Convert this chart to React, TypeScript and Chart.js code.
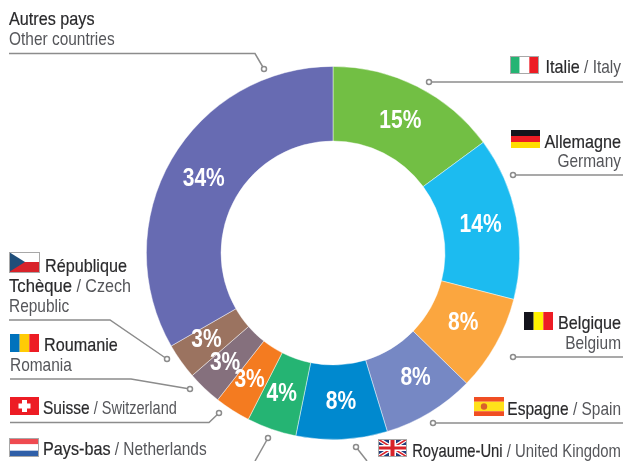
import React, { useEffect, useRef } from "react";
import { Chart, registerables } from "chart.js";

Chart.register(...registerables);

const countries = ["Italie", "Allemagne", "Belgique", "Espagne", "Royaume-Uni", "Pays-bas", "Suisse", "Roumanie", "République Tchèque", "Autres pays"];
const shares = [14.9, 14.1, 8.3, 8, 7.9, 4.3, 3.1, 3, 3.1, 33.3];
const shareLabels = ["15%", "14%", "8%", "8%", "8%", "4%", "3%", "3%", "3%", "34%"];
const sliceColors = ["#72BF44", "#1CBBF0", "#FBA63F", "#7688C4", "#0089CF", "#25B473", "#F47B20", "#85707D", "#9B7360", "#676BB2"];

const DARK = "#2a2a2c";
const LIGHT = "#55565a";
const FONT = '"Liberation Sans", sans-serif';
const LINE = "#8c8c8c";
const SQUEEZE_DARK = 0.875;
const SQUEEZE_LIGHT = 0.835;

type Seg = [string, boolean, number?];
const texts: [number, number, "l" | "r", Seg[]][] = [
  [9, 25, "l", [["Autres pays", true]]],
  [9, 45, "l", [["Other countries", false]]],
  [621, 73, "r", [["Italie", true], [" / Italy", false]]],
  [621, 148, "r", [["Allemagne", true]]],
  [621, 167, "r", [["Germany", false]]],
  [621, 329, "r", [["Belgique", true]]],
  [621, 349, "r", [["Belgium", false]]],
  [621, 415, "r", [["Espagne", true, 0.84], [" / Spain", false]]],
  [621, 457, "r", [["Royaume-Uni", true, 0.8], [" / United Kingdom", false, 0.805]]],
  [45, 272, "l", [["République", true]]],
  [9, 292, "l", [["Tchèque", true, 0.9], [" / Czech", false, 0.87]]],
  [9, 312, "l", [["Republic", false]]],
  [44, 351, "l", [["Roumanie", true]]],
  [10, 371, "l", [["Romania", false]]],
  [43, 414, "l", [["Suisse", true, 0.84], [" / Switzerland", false, 0.785]]],
  [43, 455, "l", [["Pays-bas", true], [" / Netherlands", false]]],
];

const labelNudge: [number, number][] = [
  [0, 1], [1, 1], [0, -3], [5, -2], [1, 0], [-2, 0], [-3, 1], [-5, 2], [-5, 0], [0, 1],
];

const leaders: number[][] = [
  [264, 69, 255, 53.5, 9, 53.5],
  [429, 82, 623, 82],
  [513, 175, 623, 175],
  [513, 357, 623, 357],
  [433, 423, 623, 423],
  [356, 447, 367, 461],
  [268, 438, 255, 461],
  [219, 413, 209, 422.5, 10, 422.5],
  [190, 389, 131, 379, 10, 379],
  [167, 359, 110, 320, 9, 320],
];

function stripesH(c: CanvasRenderingContext2D, x: number, y: number, w: number, h: number, cols: string[], weights?: number[]) {
  const ws = weights || cols.map(() => 1);
  const tot = ws.reduce((a, b) => a + b, 0);
  let yy = y;
  cols.forEach((col, i) => {
    const hh = (h * ws[i]) / tot;
    c.fillStyle = col;
    c.fillRect(x, yy, w, hh);
    yy += hh;
  });
}
function stripesV(c: CanvasRenderingContext2D, x: number, y: number, w: number, h: number, cols: string[]) {
  cols.forEach((col, i) => {
    c.fillStyle = col;
    c.fillRect(x + (w * i) / cols.length, y, w / cols.length, h);
  });
}
function frame(c: CanvasRenderingContext2D, x: number, y: number, w: number, h: number) {
  c.strokeStyle = "#a8a8a8";
  c.lineWidth = 1;
  c.strokeRect(x + 0.5, y + 0.5, w - 1, h - 1);
}

function drawFlags(c: CanvasRenderingContext2D) {
  stripesV(c, 510, 56, 29, 18, ["#25B473", "#FFFFFF", "#ED1C24"]);
  frame(c, 510, 56, 29, 18);
  stripesH(c, 511, 130, 29, 18, ["#14141c", "#ED1C24", "#FFDD00"]);
  stripesV(c, 524, 312, 29, 18, ["#14141c", "#FFF200", "#ED1C24"]);
  stripesH(c, 474, 397, 30, 19, ["#F04E23", "#FFE11A", "#F04E23"], [1, 2, 1]);
  c.fillStyle = "#D9602B";
  c.beginPath();
  c.arc(484, 406.5, 3.2, 0, Math.PI * 2);
  c.fill();
  c.save();
  c.beginPath();
  c.rect(378, 439, 29, 18);
  c.clip();
  c.fillStyle = "#1F3A7A";
  c.fillRect(378, 439, 29, 18);
  c.strokeStyle = "#fff";
  c.lineWidth = 4;
  c.beginPath();
  c.moveTo(378, 439);
  c.lineTo(407, 457);
  c.moveTo(407, 439);
  c.lineTo(378, 457);
  c.stroke();
  c.strokeStyle = "#D8232A";
  c.lineWidth = 1.5;
  c.stroke();
  c.fillStyle = "#fff";
  c.fillRect(389, 439, 7, 18);
  c.fillRect(378, 445, 29, 6);
  c.fillStyle = "#D8232A";
  c.fillRect(390.5, 439, 4, 18);
  c.fillRect(378, 446.5, 29, 3);
  c.restore();
  frame(c, 378, 439, 29, 18);
  stripesH(c, 9, 252, 31, 20, ["#FFFFFF", "#D8232A"]);
  c.fillStyle = "#1F4E79";
  c.beginPath();
  c.moveTo(9, 252);
  c.lineTo(25, 262);
  c.lineTo(9, 272);
  c.closePath();
  c.fill();
  frame(c, 9, 252, 31, 21);
  stripesV(c, 10, 334, 29, 18, ["#0072BC", "#FFCB05", "#ED1C24"]);
  c.fillStyle = "#ED1C24";
  c.fillRect(10, 397, 29, 18);
  c.fillStyle = "#fff";
  c.fillRect(22, 400, 5, 12);
  c.fillRect(18.5, 403.5, 12, 5);
  stripesH(c, 9, 438, 30, 19, ["#EF4A50", "#FFFFFF", "#2F5FA8"]);
  frame(c, 9, 438, 30, 19);
}

const decorate = {
  id: "decorate",
  afterDatasetsDraw(chart: any) {
    const c: CanvasRenderingContext2D = chart.ctx;
    c.save();
    const arcs = chart.getDatasetMeta(0).data;
    c.fillStyle = "#fff";
    c.font = `bold 25px ${FONT}`;
    c.textAlign = "center";
    c.textBaseline = "middle";
    arcs.forEach((a: any, i: number) => {
      const p = a.tooltipPosition();
      c.save();
      c.translate(p.x + labelNudge[i][0], p.y + labelNudge[i][1]);
      c.scale(0.84, 1);
      c.fillText(shareLabels[i], 0, 0);
      c.restore();
    });
    c.strokeStyle = LINE;
    c.lineWidth = 1.5;
    leaders.forEach((l) => {
      c.beginPath();
      c.moveTo(l[0], l[1]);
      for (let i = 2; i < l.length; i += 2) c.lineTo(l[i], l[i + 1]);
      c.stroke();
      c.beginPath();
      c.arc(l[0], l[1], 2.5, 0, Math.PI * 2);
      c.fillStyle = "#fff";
      c.fill();
      c.stroke();
    });
    drawFlags(c);
    c.textAlign = "left";
    c.textBaseline = "alphabetic";
    c.font = `18.5px ${FONT}`;
    const sq = (s: Seg) => s[2] ?? (s[1] ? SQUEEZE_DARK : SQUEEZE_LIGHT);
    texts.forEach(([x, y, anchor, segs]) => {
      const total = segs.reduce((s, g) => s + c.measureText(g[0]).width * sq(g), 0);
      let xx = anchor === "r" ? x - total : x;
      segs.forEach((g) => {
        c.save();
        c.translate(xx, y);
        c.scale(sq(g), 1);
        c.fillStyle = g[1] ? DARK : LIGHT;
        c.fillText(g[0], 0, 0);
        if (g[1]) {
          c.strokeStyle = DARK;
          c.lineWidth = 0.2;
          c.strokeText(g[0], 0, 0);
        }
        c.restore();
        xx += c.measureText(g[0]).width * sq(g);
      });
    });
    c.restore();
  },
};

export default function App() {
  const ref = useRef<HTMLCanvasElement>(null);
  useEffect(() => {
    document.body.style.margin = "0";
    const chart = new Chart(ref.current!, {
      type: "doughnut",
      data: {
        labels: countries,
        datasets: [{ data: shares, backgroundColor: sliceColors, borderColor: "rgba(255,255,255,0.6)", borderWidth: 0.75 }],
      },
      options: {
        responsive: false,
        animation: false,
        cutout: "60%",
        layout: { padding: { left: 146, right: 103, top: 66, bottom: 21 } },
        plugins: { legend: { display: false }, tooltip: { enabled: false } },
      },
      plugins: [decorate],
    });
    return () => chart.destroy();
  }, []);
  return <canvas ref={ref} width={623} height={461} style={{ display: "block" }} />;
}
